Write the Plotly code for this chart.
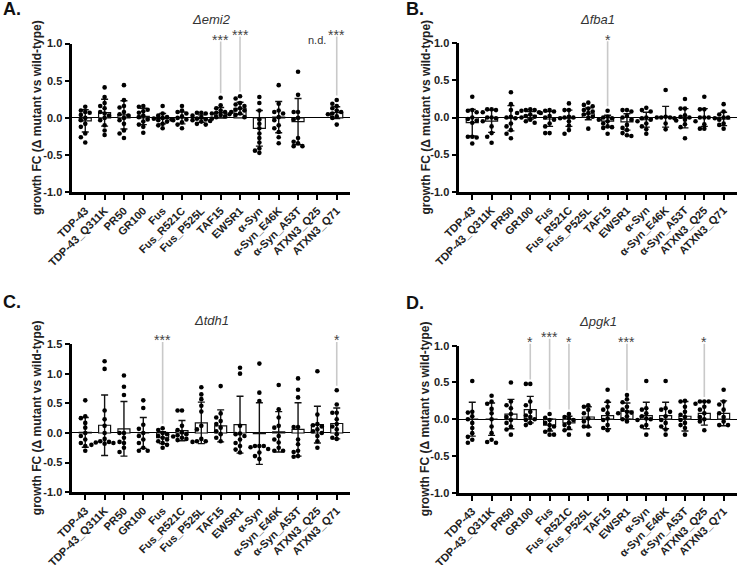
import plotly.graph_objects as go

# ---------------- data ----------------
categories = ["TDP-43", "TDP-43_Q311K", "PR50", "GR100", "Fus", "Fus_R521C", "Fus_P525L",
              "TAF15", "EWSR1", "α-Syn", "α-Syn_E46K", "α-Syn_A53T", "ATXN3_Q25", "ATXN3_Q71"]

panel_letters = ["A.", "B.", "C.", "D."]
panel_titles = ["Δemi2", "Δfba1", "Δtdh1", "Δpgk1"]
y_title = "growth FC (Δ mutant vs wild-type)"

# --- Δemi2 ---
emi2_means = [-0.04, 0.07, 0.04, 0.02, -0.01, 0.0, -0.01, 0.07, 0.13, -0.14, 0.01, -0.05, None, 0.07]
emi2_sd = [0.15, 0.18, 0.19, 0.11, 0.07, 0.08, 0.05, 0.07, 0.08, 0.24, 0.21, 0.31, None, 0.08]
emi2_points = [
    [0.15, 0.10, 0.08, 0.07, 0.04, 0.0, -0.03, -0.08, -0.12, -0.21, -0.26, -0.33],
    [0.41, 0.28, 0.20, 0.16, 0.13, 0.08, 0.06, 0.03, 0.0, -0.03, -0.10, -0.17, -0.23],
    [0.44, 0.24, 0.16, 0.14, 0.08, 0.05, 0.03, 0.0, -0.03, -0.08, -0.17, -0.21, -0.27],
    [0.16, 0.15, 0.11, 0.09, 0.07, 0.03, 0.01, -0.02, -0.05, -0.09, -0.12, -0.20],
    [0.16, 0.06, 0.03, 0.01, 0.0, -0.01, -0.02, -0.03, -0.05, -0.08, -0.10, -0.14],
    [0.16, 0.10, 0.08, 0.06, 0.02, 0.0, -0.02, -0.03, -0.06, -0.09, -0.14],
    [0.07, 0.07, 0.06, 0.03, 0.01, -0.01, -0.02, -0.03, -0.04, -0.05, -0.08, -0.09],
    [0.27, 0.17, 0.13, 0.10, 0.08, 0.07, 0.06, 0.05, 0.04, 0.02, 0.01, -0.01],
    [0.29, 0.26, 0.20, 0.18, 0.16, 0.13, 0.11, 0.10, 0.08, 0.06, 0.04, 0.01],
    [0.28, 0.20, 0.10, -0.02, -0.08, -0.14, -0.21, -0.27, -0.33, -0.41, -0.44, -0.47],
    [0.44, 0.19, 0.10, 0.08, 0.06, 0.01, -0.03, -0.10, -0.14, -0.19, -0.26, -0.34],
    [0.62, 0.31, 0.08, 0.08, 0.0, -0.02, -0.27, -0.32, -0.34, -0.38, -0.38],
    [],
    [0.24, 0.19, 0.16, 0.13, 0.10, 0.08, 0.06, 0.05, 0.02, 0.0, -0.09],
]
emi2_sig = ["", "", "", "", "", "", "", "***", "***", "", "", "", "n.d.", "***"]

# --- Δfba1 ---
fba1_means = [-0.07, -0.05, -0.01, 0.03, -0.02, -0.01, 0.05, -0.05, -0.06, -0.03, 0.01, -0.01, 0.0, -0.02]
fba1_sd = [0.18, 0.15, 0.17, 0.05, 0.10, 0.11, 0.08, 0.08, 0.11, 0.10, 0.14, 0.13, 0.12, 0.09]
fba1_points = [
    [0.28, 0.10, 0.09, 0.07, 0.0, -0.02, -0.04, -0.07, -0.26, -0.26, -0.27, -0.35],
    [0.11, 0.11, 0.10, 0.07, 0.0, 0.0, -0.01, -0.05, -0.12, -0.21, -0.26, -0.34],
    [0.34, 0.18, 0.10, 0.01, 0.0, -0.01, -0.08, -0.12, -0.17, -0.22, -0.28],
    [0.11, 0.10, 0.10, 0.09, 0.07, 0.06, 0.04, 0.02, 0.01, 0.0, -0.03, -0.05, -0.07],
    [0.10, 0.09, 0.08, 0.06, 0.02, 0.0, -0.03, -0.08, -0.12, -0.21, -0.21],
    [0.19, 0.10, 0.10, 0.01, 0.0, 0.0, -0.01, -0.05, -0.11, -0.17, -0.22],
    [0.20, 0.17, 0.15, 0.12, 0.10, 0.08, 0.06, 0.04, 0.01, 0.0, -0.15],
    [0.09, 0.01, 0.0, -0.01, -0.03, -0.05, -0.08, -0.12, -0.13, -0.14, -0.22],
    [0.10, 0.10, 0.08, 0.02, 0.0, -0.03, -0.10, -0.14, -0.17, -0.21, -0.24, -0.25],
    [0.13, 0.10, 0.08, 0.0, -0.01, -0.03, -0.05, -0.08, -0.12, -0.16, -0.22],
    [0.37, 0.01, 0.0, 0.0, 0.0, -0.01, -0.08, -0.16],
    [0.25, 0.12, 0.12, 0.03, 0.01, 0.0, -0.03, -0.04, -0.09, -0.13, -0.28],
    [0.28, 0.11, 0.11, 0.0, 0.0, 0.0, -0.05, -0.09, -0.15, -0.15],
    [0.18, 0.08, 0.04, 0.0, 0.0, -0.01, -0.03, -0.08, -0.10, -0.15],
]
fba1_sig = ["", "", "", "", "", "", "", "*", "", "", "", "", "", ""]

# --- Δtdh1 ---
tdh1_means = [0.01, 0.13, 0.07, 0.0, -0.08, 0.04, 0.17, 0.12, 0.14, -0.01, 0.02, 0.06, 0.14, 0.16]
tdh1_sd = [0.25, 0.51, 0.46, 0.26, 0.10, 0.17, 0.35, 0.27, 0.48, 0.52, 0.34, 0.45, 0.31, 0.26]
tdh1_points = [
    [0.55, 0.28, 0.25, 0.17, 0.09, 0.0, -0.05, -0.11, -0.17, -0.22, -0.30],
    [1.21, 1.08, 0.38, 0.23, 0.12, 0.0, -0.10, -0.14, -0.15, -0.16, -0.17, -0.18, -0.20],
    [0.97, 0.78, 0.64, 0.0, 0.0, -0.08, -0.15, -0.17, -0.25, -0.32],
    [0.55, 0.42, 0.14, 0.07, 0.0, -0.05, -0.11, -0.17, -0.25, -0.30, -0.30],
    [0.08, 0.05, 0.0, -0.02, -0.05, -0.08, -0.11, -0.14, -0.17, -0.20, -0.25],
    [0.38, 0.38, 0.12, 0.05, 0.01, -0.02, -0.04, -0.06, -0.08, -0.10, -0.12],
    [0.77, 0.65, 0.57, 0.46, 0.36, 0.12, 0.06, -0.10, -0.14, -0.14, -0.15],
    [0.79, 0.33, 0.26, 0.20, 0.15, 0.09, 0.03, -0.02, -0.08, -0.14],
    [1.10, 1.00, 0.12, -0.01, -0.02, -0.05, -0.11, -0.17, -0.22, -0.28, -0.33],
    [1.17, 0.68, 0.54, -0.22, -0.22, -0.22, -0.24, -0.27, -0.33, -0.39, -0.44],
    [0.81, 0.40, 0.26, 0.12, 0.09, -0.05, -0.11, -0.16, -0.25, -0.30, -0.30],
    [0.92, 0.73, 0.60, 0.10, 0.10, -0.11, -0.19, -0.30, -0.32, -0.39, -0.40],
    [1.04, 0.31, 0.15, 0.13, 0.11, 0.06, 0.03, 0.0, -0.05, -0.14, -0.25],
    [0.72, 0.48, 0.34, 0.34, 0.23, 0.15, 0.11, 0.06, -0.02, -0.08, -0.10],
]
tdh1_sig = ["", "", "", "", "***", "", "", "", "", "", "", "", "", "*"]

# --- Δpgk1 ---
pgk1_means = [0.0, 0.0, 0.07, 0.13, -0.08, -0.05, 0.03, 0.05, 0.11, 0.05, 0.05, 0.04, 0.08, 0.08]
pgk1_sd = [0.23, 0.22, 0.20, 0.18, 0.08, 0.09, 0.14, 0.18, 0.11, 0.18, 0.18, 0.20, 0.16, 0.17]
pgk1_points = [
    [0.52, 0.10, 0.09, 0.04, 0.0, -0.05, -0.12, -0.19, -0.24, -0.28, -0.32],
    [0.32, 0.24, 0.21, 0.14, 0.08, 0.0, -0.10, -0.19, -0.28, -0.32, -0.31],
    [0.50, 0.24, 0.19, 0.15, 0.07, 0.03, -0.01, -0.05, -0.10, -0.14, -0.21],
    [0.48, 0.48, 0.24, 0.19, 0.10, 0.05, 0.03, 0.0, -0.01, -0.05, -0.08],
    [0.07, 0.02, -0.01, -0.05, -0.08, -0.10, -0.14, -0.17, -0.21, -0.21],
    [0.07, 0.03, 0.01, -0.01, -0.05, -0.08, -0.12, -0.15, -0.21],
    [0.19, 0.17, 0.13, 0.08, 0.01, -0.03, -0.10, -0.10, -0.21],
    [0.40, 0.24, 0.17, 0.13, 0.08, 0.01, -0.01, -0.08, -0.12, -0.15],
    [0.33, 0.27, 0.23, 0.17, 0.13, 0.10, 0.09, 0.08, 0.04, 0.0, -0.03],
    [0.52, 0.15, 0.13, 0.08, 0.04, 0.01, 0.0, -0.01, -0.08, -0.10, -0.21],
    [0.52, 0.15, 0.13, 0.10, 0.04, -0.01, -0.05, -0.10, -0.14, -0.21],
    [0.25, 0.24, 0.17, 0.10, 0.06, 0.03, -0.01, -0.05, -0.08, -0.12, -0.21],
    [0.24, 0.24, 0.24, 0.21, 0.17, 0.13, 0.08, 0.03, 0.0, -0.03, -0.15],
    [0.40, 0.24, 0.20, 0.13, 0.08, 0.03, -0.03, -0.08, -0.08],
]
pgk1_sig = ["", "", "", "*", "***", "*", "", "", "***", "", "", "", "*", ""]

panel_data = [
    (emi2_means, emi2_sd, emi2_points, emi2_sig),
    (fba1_means, fba1_sd, fba1_points, fba1_sig),
    (tdh1_means, tdh1_sd, tdh1_points, tdh1_sig),
    (pgk1_means, pgk1_sd, pgk1_points, pgk1_sig),
]

# ---------------- layout geometry (pixels) ----------------
W, H = 738, 565
FONT = "Liberation Sans"
XR = [-0.67, 13.67]
geom = [
    dict(x0=72.3, x1=349.7, ytop=43.5, ybot=192.3, yr=(-1.0, 1.0)),
    dict(x0=459.3, x1=736.6, ytop=43.3, ybot=191.7, yr=(-1.0, 1.0)),
    dict(x0=72.3, x1=349.7, ytop=344.0, ybot=492.3, yr=(-1.0, 1.5)),
    dict(x0=459.3, x1=736.6, ytop=345.7, ybot=492.7, yr=(-1.0, 1.0)),
]
letter_pos = [(1, 9), (404, 9), (1, 302), (404, 303)]
ytitle_x = [37, 425]


def v2px(g, v):
    r0, r1 = g["yr"]
    return g["ytop"] + (r1 - v) / (r1 - r0) * (g["ybot"] - g["ytop"])


def px2paper(ypx):
    return 1 - ypx / H


def swarm(vals, ppu, cat_px, step=4.4, mind=4.3):
    placed = []
    offs = [0.0] * len(vals)
    order = sorted(range(len(vals)), key=lambda i: -vals[i])
    for i in order:
        y = vals[i] * ppu
        chosen = 0.0
        for k in [0, -1, 1, -2, 2, -3, 3, -4, 4]:
            x = k * step
            if all((x - a) ** 2 + (y - b) ** 2 >= mind ** 2 for a, b in placed):
                chosen = x
                break
        placed.append((chosen, y))
        offs[i] = chosen / cat_px
    return offs


fig = go.Figure()
annotations = []
shapes = []

for p, (means, sds, pts, sig) in enumerate(panel_data):
    g = geom[p]
    sfx = "" if p == 0 else str(p + 1)
    xa, ya = "x" + sfx, "y" + sfx
    cat_px = (g["x1"] - g["x0"]) / (XR[1] - XR[0])
    ppu = (g["ybot"] - g["ytop"]) / (g["yr"][1] - g["yr"][0])
    idx = list(range(len(categories)))

    fig.add_trace(go.Bar(
        x=idx, y=means, width=0.62, xaxis=xa, yaxis=ya,
        marker=dict(color="white", line=dict(color="#111", width=1.2)),
        error_y=dict(type="data", array=sds, visible=True, color="#111", thickness=1.4, width=3.5),
        hoverinfo="skip",
    ))
    xs, ys = [], []
    for i, vals in enumerate(pts):
        offs = swarm(vals, ppu, cat_px)
        for v, o in zip(vals, offs):
            xs.append(i + o)
            ys.append(v)
    fig.add_trace(go.Scatter(
        x=xs, y=ys, mode="markers", xaxis=xa, yaxis=ya,
        marker=dict(color="black", size=4.6, line=dict(width=0)),
        hoverinfo="skip", cliponaxis=False,
    ))

    # significance labels
    run = 0
    for i, s in enumerate(sig):
        if not s:
            run = 0
            continue
        raised = (run % 2 == 1)
        run += 1
        glyph_c = g["ytop"] - 7 - (5 if raised else 0)
        if s == "n.d.":
            annotations.append(dict(
                x=i, y=px2paper(glyph_c + 4), xref=xa, yref="paper",
                text=s, showarrow=False, yanchor="middle", xanchor="center",
                font=dict(family=FONT, size=11, color="#333")))
            continue
        annotations.append(dict(
            x=i, y=px2paper(glyph_c + 3.3), xref=xa, yref="paper",
            text=s, showarrow=False, yanchor="middle", xanchor="center",
            font=dict(family=FONT, size=14, color="#444")))
        top_val = max(pts[i] + ([means[i] + sds[i]] if means[i] is not None else []))
        shapes.append(dict(
            type="line", xref=xa, yref="paper", x0=i, x1=i,
            y0=px2paper(v2px(g, top_val) - 4.5), y1=px2paper(glyph_c + 5),
            line=dict(color="#c9c9c9", width=1.6)))

    # axes
    r0, r1 = g["yr"]
    tv = []
    t = r0
    while t <= r1 + 1e-9:
        tv.append(round(t, 2))
        t += 0.5
    xfont = dict(family=FONT, size=11, color="#222", weight="bold")
    yfont = dict(family=FONT, size=11, color="#222", weight="bold")
    fig.layout["xaxis" + sfx] = dict(
        domain=[g["x0"] / W, g["x1"] / W], range=XR, anchor=ya, automargin=False,
        tickmode="array", tickvals=idx, ticktext=categories, tickangle=-45,
        showline=True, linewidth=2.6, linecolor="black", ticks="outside", ticklen=5,
        tickwidth=2.2, tickcolor="black", showgrid=False, zeroline=False,
        tickfont=xfont, fixedrange=True)
    fig.layout["yaxis" + sfx] = dict(
        domain=[px2paper(g["ybot"]), px2paper(g["ytop"])], range=[r0, r1], anchor=xa,
        automargin=False,
        tickmode="array", tickvals=tv, ticktext=[f"{v:.1f}" for v in tv],
        showline=True, linewidth=2.6, linecolor="black", ticks="outside", ticklen=5,
        tickwidth=2.2, tickcolor="black", showgrid=False,
        zeroline=True, zerolinecolor="black", zerolinewidth=1,
        tickfont=yfont, fixedrange=True)

    # panel title
    annotations.append(dict(
        x=(g["x0"] + g["x1"]) / 2 / W, y=px2paper(g["ytop"] - 24), xref="paper", yref="paper",
        text="<i>" + panel_titles[p] + "</i>", showarrow=False, xanchor="center", yanchor="middle",
        font=dict(family=FONT, size=13, color="#333")))
    # panel letter
    lx, ly = letter_pos[p]
    annotations.append(dict(
        x=lx / W, y=px2paper(ly), xref="paper", yref="paper", text="<b>" + panel_letters[p] + "</b>",
        showarrow=False, xanchor="left", yanchor="middle",
        font=dict(family=FONT, size=18, color="#111")))
    # y title
    annotations.append(dict(
        x=ytitle_x[p % 2] / W, y=px2paper((g["ytop"] + g["ybot"]) / 2), xref="paper", yref="paper",
        text=y_title, textangle=-90, showarrow=False, xanchor="center", yanchor="middle",
        font=dict(family=FONT, size=12, color="#222", weight="bold")))

fig.update_layout(
    width=W, height=H, autosize=False,
    margin=dict(l=0, r=0, t=0, b=0, autoexpand=False),
    paper_bgcolor="white", plot_bgcolor="white",
    showlegend=False, barmode="overlay",
    annotations=annotations, shapes=shapes,
    font=dict(family=FONT, color="#222"),
)

fig.write_html("out.html", config={"displayModeBar": False},
               post_script="document.body.style.margin='0px';document.body.style.padding='0px';")
